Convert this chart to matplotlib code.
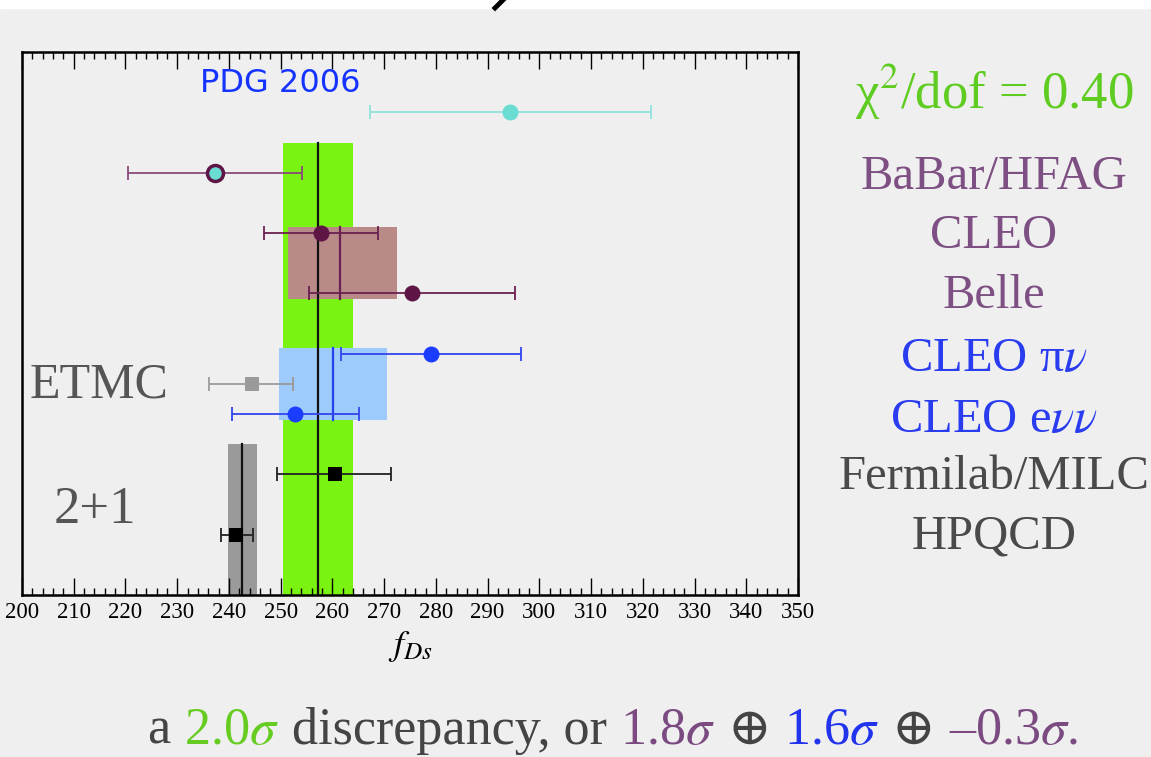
import matplotlib
matplotlib.use("Agg")
import matplotlib.pyplot as plt
from matplotlib.patches import Rectangle
from matplotlib.lines import Line2D
from matplotlib.ticker import MultipleLocator

plt.rcParams['font.family'] = ['Liberation Serif', 'DejaVu Serif']
plt.rcParams['mathtext.fontset'] = 'stix'

# 数据: 从上到下每一行
labels = ["PDG 2006", "BaBar/HFAG", "CLEO", "Belle", "CLEO πν", "ETMC",
          "CLEO eνν", "Fermilab/MILC", "HPQCD"]
rows = [8, 7, 6, 5, 4, 3.5, 3, 2, 1]
fds = [294.4, 237.4, 257.8, 275.4, 279.1, 244.4, 252.7, 260.5, 241.3]
err_lo = [27.2, 16.9, 11.1, 20.0, 17.5, 8.2, 12.2, 11.3, 2.9]
err_hi = [27.1, 16.7, 11.0, 19.9, 17.4, 7.9, 12.4, 10.8, 3.3]
face = ['#6adcd2', '#6adcd2', '#5e1545', '#5e1545', '#1a3dff', '#9a9a9a',
        '#1a3dff', 'black', 'black']
edge = ['#6adcd2', '#5e1545', '#5e1545', '#5e1545', '#1a3dff', '#9a9a9a',
        '#1a3dff', 'black', 'black']
bar_col = ['#8fe3dc', '#8a4a7a', '#6a2050', '#6a2050', '#3344ee', '#9a9a9a',
           '#3344ee', '#222222', '#222222']
marker = ['o', 'o', 'o', 'o', 'o', 's', 'o', 's', 's']

# 平均值带: 中心, 左, 右, 下, 上
band_mid = [257.2, 261.4, 260.1, 242.6]
band_lo = [250.4, 251.4, 249.6, 239.9]
band_hi = [264.0, 272.5, 270.5, 245.5]
band_y0 = [0, 4.9, 2.9, 0]
band_y1 = [7.5, 6.1, 4.1, 2.5]
band_col = ['#7af212', '#b98a88', '#9dcbfb', '#9a9a9a']
band_line = ['#111111', '#6a2050', '#2244ee', '#111111']

right_labels = ["BaBar/HFAG", "CLEO", "Belle", "CLEO π$\\nu$", "CLEO e$\\nu\\nu$",
                "Fermilab/MILC", "HPQCD"]
right_y = [177, 236, 296, 359, 420, 477, 537]
right_col = ['#7d4f82', '#7d4f82', '#7d4f82', '#2a3cf0', '#2a3cf0',
             '#4a4a4a', '#4a4a4a']

bg = '#efefef'
W, H = 1151, 757
fig = plt.figure(figsize=(W / 100, H / 100), dpi=100, facecolor=bg)
fig.patches.append(Rectangle((0, 1 - 8 / H), 1, 8 / H, transform=fig.transFigure,
                             color='white', zorder=0))
# 标题被裁掉，只剩一小笔
fig.lines.append(Line2D([503 / W, 495 / W], [1.0, 1 - 8 / H], transform=fig.transFigure,
                        color='black', lw=3.5))

ax = fig.add_axes([22 / W, 1 - 595 / H, 776 / W, 543 / H])
ax.set_facecolor('none')
ax.set_xlim(200, 350)
ax.set_ylim(0, 9)

for i in range(len(band_mid)):
    ax.add_patch(Rectangle((band_lo[i], band_y0[i]), band_hi[i] - band_lo[i],
                           band_y1[i] - band_y0[i], color=band_col[i], lw=0, zorder=1))
    ax.plot([band_mid[i], band_mid[i]], [band_y0[i], band_y1[i]], color=band_line[i],
            lw=1.6, zorder=2)

for i in range(len(fds)):
    ax.errorbar(fds[i], rows[i], xerr=[[err_lo[i]], [err_hi[i]]], fmt='none',
                ecolor=bar_col[i], elinewidth=1.3, capsize=5, capthick=1.3, zorder=3)
    ms = 11.5 if marker[i] == 'o' else 10
    ax.plot(fds[i], rows[i], marker=marker[i], ms=ms, mfc=face[i], mec=edge[i],
            mew=2.5 if i == 1 else 0, ls='none', zorder=4)

ax.xaxis.set_major_locator(MultipleLocator(10))
ax.xaxis.set_minor_locator(MultipleLocator(2))
ax.tick_params(axis='x', which='both', direction='in', top=True, bottom=True,
               labelsize=16.5, pad=5)
ax.tick_params(axis='x', which='major', length=12, width=1)
ax.tick_params(axis='x', which='minor', length=5, width=1)
ax.set_yticks([])
for s in ax.spines.values():
    s.set_linewidth(1.8)
ax.set_xlabel("$f_{Ds}$", fontsize=26, labelpad=4)

fig.text(280 / W, 1 - 84 / H, "PDG 2006", color='#1433ff', fontsize=23,
         family='DejaVu Sans', ha='center', va='center')
fig.text(99 / W, 1 - 385 / H, "ETMC", color='#555555', fontsize=36, ha='center',
         va='center')
fig.text(95 / W, 1 - 510 / H, "2+1", color='#555555', fontsize=38, ha='center',
         va='center')

fig.text(994 / W, 1 - 92 / H, "χ$^2$/dof = 0.40", color='#5fcc22', fontsize=38,
         ha='center', va='center')
for t, y, c in zip(right_labels, right_y, right_col):
    fig.text(994 / W, 1 - y / H, t, color=c, fontsize=35, ha='center', va='center')

# 底部多色文字
pieces = [("a ", '#444444'), ("2.0$\\sigma$", '#66cc22'),
          (" discrepancy, or ", '#444444'), ("1.8$\\sigma$", '#7a4a80'),
          (" ⊕ ", '#444444'), ("1.6$\\sigma$", '#2233ee'), (" ⊕ ", '#444444'),
          ("–0.3$\\sigma$.", '#7a4a80')]
renderer = fig.canvas.get_renderer()
x = 148
for t, c in pieces:
    txt = fig.text(x / W, 1 - 744 / H, t, color=c, fontsize=37.5, ha='left',
                   va='baseline')
    bb = txt.get_window_extent(renderer=renderer)
    x += bb.width

fig.savefig("out.png", dpi=100, facecolor=bg)
